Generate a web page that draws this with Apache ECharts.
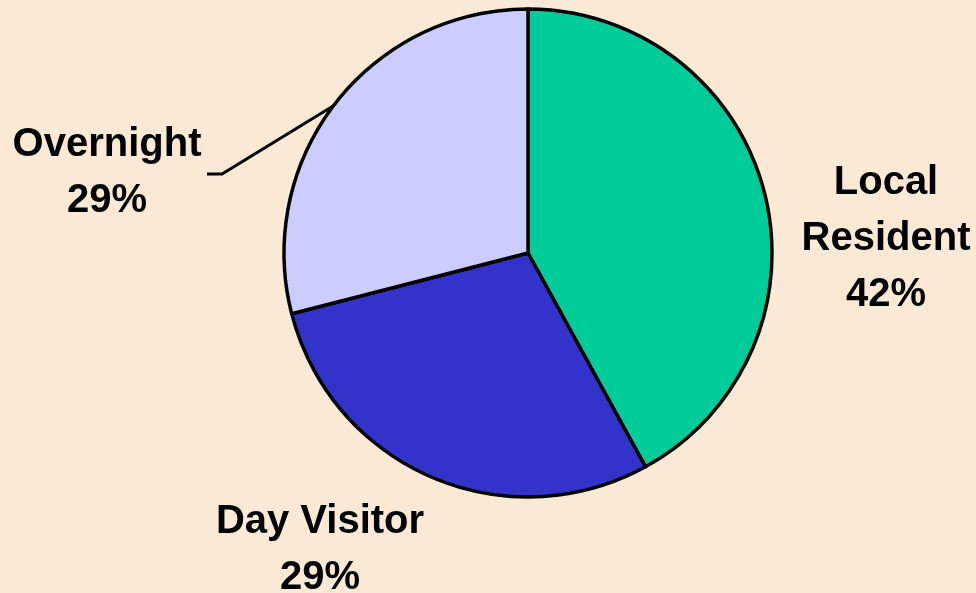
<!DOCTYPE html>
<html>
<head>
<meta charset="utf-8">
<script src="https://cdn.jsdelivr.net/npm/echarts@6/dist/echarts.min.js"></script>
<style>
  html, body { margin: 0; padding: 0; background: #FAEAD5; }
  #chart { width: 976px; height: 593px; }
</style>
</head>
<body>
<div id="chart"></div>
<script>
// Visitor type breakdown
const categories = ['Local\nResident', 'Day Visitor', 'Overnight'];
const shares = [42, 29, 29];
const sliceColors = ['#00CC99', '#3333CC', '#CCCCFF'];

// Label block centres and the leader line for the Overnight slice
const labelCentres = [[886, 239], [320, 550], [107, 173]];
const overnightLeader = [[338, 103], [222, 174], [207, 174]];

const chart = echarts.init(document.getElementById('chart'), null, { renderer: 'canvas' });

chart.setOption({
  backgroundColor: '#FAEAD5',
  animation: false,
  series: [{
    type: 'pie',
    center: [528, 253],
    radius: 244,
    startAngle: 90,
    clockwise: true,
    data: categories.map((name, i) => ({
      name: name,
      value: shares[i],
      itemStyle: { color: sliceColors[i] },
      labelLine: { show: i === 2 }
    })),
    itemStyle: { borderColor: '#000000', borderWidth: 3.5 },
    label: {
      show: true,
      position: 'outside',
      formatter: p => p.name + '\n' + p.value + '%',
      fontFamily: '"Liberation Sans", Arial, sans-serif',
      fontWeight: 'bold',
      fontSize: 40,
      lineHeight: 56,
      color: '#000000',
      align: 'center',
      overflow: 'none'
    },
    labelLine: {
      lineStyle: { color: '#000000', width: 3 }
    },
    labelLayout: params => {
      const c = labelCentres[params.dataIndex];
      const out = { x: c[0], y: c[1], align: 'center', verticalAlign: 'middle', width: 260 };
      if (params.dataIndex === 2) out.labelLinePoints = overnightLeader;
      return out;
    },
    emphasis: { disabled: true }
  }]
});
</script>
</body>
</html>
